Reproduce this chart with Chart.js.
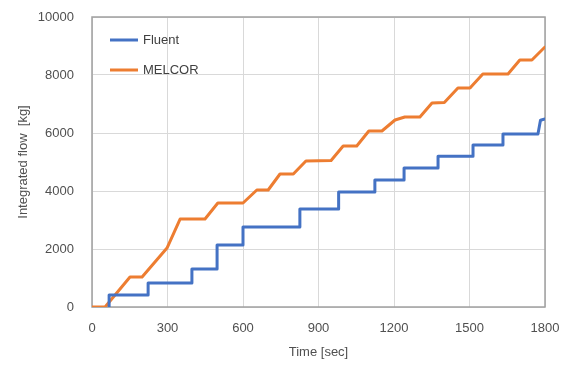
<!DOCTYPE html>
<html>
<head>
<meta charset="utf-8">
<script src="https://cdn.jsdelivr.net/npm/chart.js"></script>
<style>
  html, body { margin: 0; padding: 0; background: #fff; }
  #wrap { width: 567px; height: 365px; }
</style>
</head>
<body>
<div id="wrap"><canvas id="chart" width="567" height="365"></canvas></div>
<script>
// time [sec] and integrated flow [kg]
const fluentTime = [68, 68, 223, 223, 397, 397, 497, 497, 600, 600, 826, 826, 980, 980, 1124, 1124, 1240, 1240, 1375, 1375, 1514, 1514, 1633, 1633, 1772, 1782, 1800];
const fluentFlow = [0, 414, 414, 828, 828, 1310, 1310, 2138, 2138, 2759, 2759, 3380, 3380, 3966, 3966, 4380, 4380, 4793, 4793, 5200, 5200, 5586, 5586, 5966, 5966, 6440, 6483];

const melcorTime = [0, 52, 151, 199, 298, 350, 449, 500, 600, 655, 700, 747, 800, 850, 950, 998, 1052, 1100, 1152, 1204, 1243, 1303, 1351, 1400, 1454, 1502, 1553, 1653, 1700, 1748, 1800];
const melcorFlow = [0, 0, 1034, 1034, 2034, 3034, 3034, 3586, 3586, 4034, 4034, 4586, 4586, 5034, 5050, 5552, 5552, 6069, 6069, 6448, 6552, 6552, 7034, 7050, 7552, 7552, 8034, 8034, 8517, 8517, 8966];

const xTicks = [0, 300, 600, 900, 1200, 1500, 1800];
const yTicks = [0, 2000, 4000, 6000, 8000, 10000];

const seriesNames = ['Fluent', 'MELCOR'];
const seriesColors = ['#4472C4', '#ED7D31'];

const toPoints = (xs, ys) => xs.map((x, i) => ({ x: x, y: ys[i] }));

const FONT = 'Liberation Sans, Arial, sans-serif';

// plot frame, drawn under the lines
const frame = {
  id: 'frame',
  beforeDatasetsDraw(chart) {
    const a = chart.chartArea;
    const ctx = chart.ctx;
    ctx.save();
    ctx.strokeStyle = '#a0a0a0';
    ctx.lineWidth = 1.5;
    ctx.strokeRect(a.left, a.top, a.right - a.left, a.bottom - a.top);
    ctx.restore();
  }
};

// legend sitting inside the plot, stacked
const innerLegend = {
  id: 'innerLegend',
  afterDatasetsDraw(chart) {
    const ctx = chart.ctx;
    ctx.save();
    ctx.font = '13px ' + FONT;
    ctx.textBaseline = 'middle';
    chart.data.datasets.forEach((ds, i) => {
      const y = 40 + i * 30;
      ctx.strokeStyle = ds.borderColor;
      ctx.lineWidth = 3;
      ctx.beginPath();
      ctx.moveTo(110, y);
      ctx.lineTo(138, y);
      ctx.stroke();
      ctx.fillStyle = '#404040';
      ctx.fillText(ds.label, 143, y);
    });
    ctx.restore();
  }
};

new Chart(document.getElementById('chart'), {
  type: 'line',
  data: {
    datasets: [
      {
        label: seriesNames[0],
        data: toPoints(fluentTime, fluentFlow),
        borderColor: seriesColors[0],
        backgroundColor: seriesColors[0],
        borderWidth: 3,
        pointRadius: 0,
        tension: 0,
        borderJoinStyle: 'round',
        borderCapStyle: 'round'
      },
      {
        label: seriesNames[1],
        data: toPoints(melcorTime, melcorFlow),
        borderColor: seriesColors[1],
        backgroundColor: seriesColors[1],
        borderWidth: 3,
        pointRadius: 0,
        tension: 0,
        borderJoinStyle: 'round',
        borderCapStyle: 'round'
      }
    ]
  },
  options: {
    responsive: false,
    animation: false,
    parsing: false,
    layout: { padding: { left: 0, right: 22, top: 17, bottom: 0 } },
    plugins: {
      legend: { display: false },
      tooltip: { enabled: false }
    },
    scales: {
      x: {
        type: 'linear',
        min: 0,
        max: 1800,
        afterBuildTicks: (scale) => { scale.ticks = xTicks.map(v => ({ value: v })); },
        afterFit: (scale) => {
          scale.height = 58;
          scale.paddingLeft = 0;
          scale.paddingRight = 0;
        },
        ticks: {
          padding: 14,
          color: '#505050',
          font: { family: FONT, size: 13 },
          maxRotation: 0,
          callback: (v) => String(v)
        },
        grid: { color: '#d9d9d9', lineWidth: 1, drawTicks: false, tickLength: 0 },
        border: { display: false },
        title: {
          display: true,
          text: 'Time [sec]',
          color: '#505050',
          font: { family: FONT, size: 13 },
          padding: { top: 5, bottom: 5 }
        }
      },
      y: {
        type: 'linear',
        min: 0,
        max: 10000,
        afterBuildTicks: (scale) => { scale.ticks = yTicks.map(v => ({ value: v })); },
        afterFit: (scale) => {
          scale.width = 92;
          scale.paddingTop = 0;
          scale.paddingBottom = 0;
        },
        ticks: {
          padding: 18,
          color: '#505050',
          font: { family: FONT, size: 13 },
          callback: (v) => String(v)
        },
        grid: { color: '#d9d9d9', lineWidth: 1, drawTicks: false, tickLength: 0 },
        border: { display: false },
        title: {
          display: true,
          text: 'Integrated flow  [kg]',
          color: '#505050',
          font: { family: FONT, size: 13 },
          padding: { top: 16, bottom: 16 }
        }
      }
    }
  },
  plugins: [frame, innerLegend]
});
</script>
</body>
</html>
